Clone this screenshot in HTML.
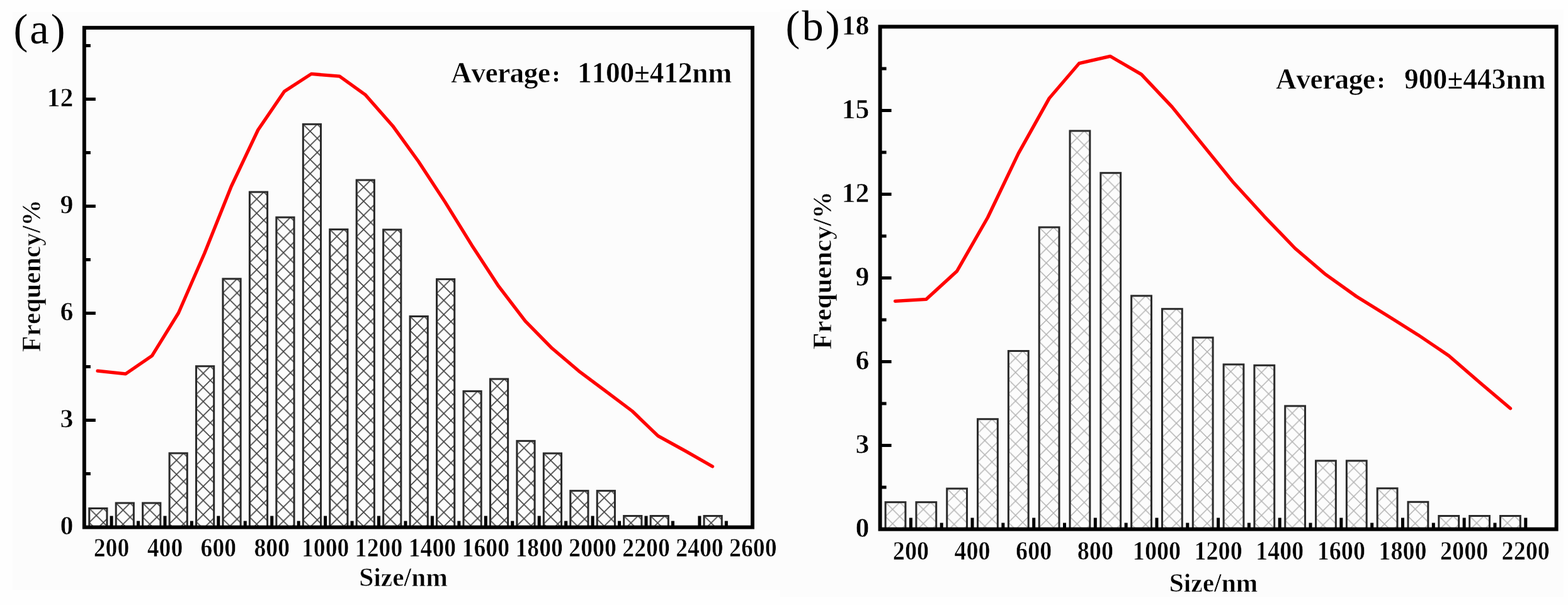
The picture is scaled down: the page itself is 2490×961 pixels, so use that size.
<!DOCTYPE html>
<html><head><meta charset="utf-8"><title>Size distribution</title>
<style>
html,body{margin:0;padding:0;background:#fefefe;}
svg{display:block;}
text{font-family:"Liberation Serif","Noto Serif CJK SC",serif;fill:#000;font-kerning:none;}
text.b{stroke:#fcfcfc;stroke-width:0.6px;}
</style></head><body>
<svg width="2490" height="961" viewBox="0 0 2490 961">
<defs>
<pattern id="a0" patternUnits="userSpaceOnUse" x="141.72" y="807.5" width="22.45" height="22.45"><path d="M-22.45,0L0,22.45M0,0L-22.45,22.45M0,0L22.45,22.45M22.45,0L0,22.45M22.45,0L44.9,22.45M44.9,0L22.45,22.45" stroke="#000" stroke-width="1.6" stroke-opacity="0.75" fill="none"/></pattern>
<pattern id="a1" patternUnits="userSpaceOnUse" x="184.17" y="799" width="22.45" height="22.45"><path d="M-22.45,0L0,22.45M0,0L-22.45,22.45M0,0L22.45,22.45M22.45,0L0,22.45M22.45,0L44.9,22.45M44.9,0L22.45,22.45" stroke="#000" stroke-width="1.6" stroke-opacity="0.75" fill="none"/></pattern>
<pattern id="a2" patternUnits="userSpaceOnUse" x="226.62" y="799" width="22.45" height="22.45"><path d="M-22.45,0L0,22.45M0,0L-22.45,22.45M0,0L22.45,22.45M22.45,0L0,22.45M22.45,0L44.9,22.45M44.9,0L22.45,22.45" stroke="#000" stroke-width="1.6" stroke-opacity="0.75" fill="none"/></pattern>
<pattern id="a3" patternUnits="userSpaceOnUse" x="269.07" y="719.9" width="22.45" height="22.45"><path d="M-22.45,0L0,22.45M0,0L-22.45,22.45M0,0L22.45,22.45M22.45,0L0,22.45M22.45,0L44.9,22.45M44.9,0L22.45,22.45" stroke="#000" stroke-width="1.6" stroke-opacity="0.75" fill="none"/></pattern>
<pattern id="a4" patternUnits="userSpaceOnUse" x="311.52" y="581.7" width="22.45" height="22.45"><path d="M-22.45,0L0,22.45M0,0L-22.45,22.45M0,0L22.45,22.45M22.45,0L0,22.45M22.45,0L44.9,22.45M44.9,0L22.45,22.45" stroke="#000" stroke-width="1.6" stroke-opacity="0.75" fill="none"/></pattern>
<pattern id="a5" patternUnits="userSpaceOnUse" x="353.96" y="442.9" width="22.45" height="22.45"><path d="M-22.45,0L0,22.45M0,0L-22.45,22.45M0,0L22.45,22.45M22.45,0L0,22.45M22.45,0L44.9,22.45M44.9,0L22.45,22.45" stroke="#000" stroke-width="1.6" stroke-opacity="0.75" fill="none"/></pattern>
<pattern id="a6" patternUnits="userSpaceOnUse" x="396.41" y="305" width="22.45" height="22.45"><path d="M-22.45,0L0,22.45M0,0L-22.45,22.45M0,0L22.45,22.45M22.45,0L0,22.45M22.45,0L44.9,22.45M44.9,0L22.45,22.45" stroke="#000" stroke-width="1.6" stroke-opacity="0.75" fill="none"/></pattern>
<pattern id="a7" patternUnits="userSpaceOnUse" x="438.86" y="345.2" width="22.45" height="22.45"><path d="M-22.45,0L0,22.45M0,0L-22.45,22.45M0,0L22.45,22.45M22.45,0L0,22.45M22.45,0L44.9,22.45M44.9,0L22.45,22.45" stroke="#000" stroke-width="1.6" stroke-opacity="0.75" fill="none"/></pattern>
<pattern id="a8" patternUnits="userSpaceOnUse" x="481.31" y="197.3" width="22.45" height="22.45"><path d="M-22.45,0L0,22.45M0,0L-22.45,22.45M0,0L22.45,22.45M22.45,0L0,22.45M22.45,0L44.9,22.45M44.9,0L22.45,22.45" stroke="#000" stroke-width="1.6" stroke-opacity="0.75" fill="none"/></pattern>
<pattern id="a9" patternUnits="userSpaceOnUse" x="523.76" y="364.4" width="22.45" height="22.45"><path d="M-22.45,0L0,22.45M0,0L-22.45,22.45M0,0L22.45,22.45M22.45,0L0,22.45M22.45,0L44.9,22.45M44.9,0L22.45,22.45" stroke="#000" stroke-width="1.6" stroke-opacity="0.75" fill="none"/></pattern>
<pattern id="a10" patternUnits="userSpaceOnUse" x="566.2" y="286" width="22.45" height="22.45"><path d="M-22.45,0L0,22.45M0,0L-22.45,22.45M0,0L22.45,22.45M22.45,0L0,22.45M22.45,0L44.9,22.45M44.9,0L22.45,22.45" stroke="#000" stroke-width="1.6" stroke-opacity="0.75" fill="none"/></pattern>
<pattern id="a11" patternUnits="userSpaceOnUse" x="608.65" y="364.8" width="22.45" height="22.45"><path d="M-22.45,0L0,22.45M0,0L-22.45,22.45M0,0L22.45,22.45M22.45,0L0,22.45M22.45,0L44.9,22.45M44.9,0L22.45,22.45" stroke="#000" stroke-width="1.6" stroke-opacity="0.75" fill="none"/></pattern>
<pattern id="a12" patternUnits="userSpaceOnUse" x="651.1" y="502.5" width="22.45" height="22.45"><path d="M-22.45,0L0,22.45M0,0L-22.45,22.45M0,0L22.45,22.45M22.45,0L0,22.45M22.45,0L44.9,22.45M44.9,0L22.45,22.45" stroke="#000" stroke-width="1.6" stroke-opacity="0.75" fill="none"/></pattern>
<pattern id="a13" patternUnits="userSpaceOnUse" x="693.55" y="443.5" width="22.45" height="22.45"><path d="M-22.45,0L0,22.45M0,0L-22.45,22.45M0,0L22.45,22.45M22.45,0L0,22.45M22.45,0L44.9,22.45M44.9,0L22.45,22.45" stroke="#000" stroke-width="1.6" stroke-opacity="0.75" fill="none"/></pattern>
<pattern id="a14" patternUnits="userSpaceOnUse" x="736" y="621.4" width="22.45" height="22.45"><path d="M-22.45,0L0,22.45M0,0L-22.45,22.45M0,0L22.45,22.45M22.45,0L0,22.45M22.45,0L44.9,22.45M44.9,0L22.45,22.45" stroke="#000" stroke-width="1.6" stroke-opacity="0.75" fill="none"/></pattern>
<pattern id="a15" patternUnits="userSpaceOnUse" x="778.44" y="602" width="22.45" height="22.45"><path d="M-22.45,0L0,22.45M0,0L-22.45,22.45M0,0L22.45,22.45M22.45,0L0,22.45M22.45,0L44.9,22.45M44.9,0L22.45,22.45" stroke="#000" stroke-width="1.6" stroke-opacity="0.75" fill="none"/></pattern>
<pattern id="a16" patternUnits="userSpaceOnUse" x="820.89" y="700.4" width="22.45" height="22.45"><path d="M-22.45,0L0,22.45M0,0L-22.45,22.45M0,0L22.45,22.45M22.45,0L0,22.45M22.45,0L44.9,22.45M44.9,0L22.45,22.45" stroke="#000" stroke-width="1.6" stroke-opacity="0.75" fill="none"/></pattern>
<pattern id="a17" patternUnits="userSpaceOnUse" x="863.34" y="720.1" width="22.45" height="22.45"><path d="M-22.45,0L0,22.45M0,0L-22.45,22.45M0,0L22.45,22.45M22.45,0L0,22.45M22.45,0L44.9,22.45M44.9,0L22.45,22.45" stroke="#000" stroke-width="1.6" stroke-opacity="0.75" fill="none"/></pattern>
<pattern id="a18" patternUnits="userSpaceOnUse" x="905.79" y="779.6" width="22.45" height="22.45"><path d="M-22.45,0L0,22.45M0,0L-22.45,22.45M0,0L22.45,22.45M22.45,0L0,22.45M22.45,0L44.9,22.45M44.9,0L22.45,22.45" stroke="#000" stroke-width="1.6" stroke-opacity="0.75" fill="none"/></pattern>
<pattern id="a19" patternUnits="userSpaceOnUse" x="948.24" y="779.6" width="22.45" height="22.45"><path d="M-22.45,0L0,22.45M0,0L-22.45,22.45M0,0L22.45,22.45M22.45,0L0,22.45M22.45,0L44.9,22.45M44.9,0L22.45,22.45" stroke="#000" stroke-width="1.6" stroke-opacity="0.75" fill="none"/></pattern>
<pattern id="a20" patternUnits="userSpaceOnUse" x="990.68" y="819.5" width="22.45" height="22.45"><path d="M-22.45,0L0,22.45M0,0L-22.45,22.45M0,0L22.45,22.45M22.45,0L0,22.45M22.45,0L44.9,22.45M44.9,0L22.45,22.45" stroke="#000" stroke-width="1.6" stroke-opacity="0.75" fill="none"/></pattern>
<pattern id="a21" patternUnits="userSpaceOnUse" x="1033.13" y="819.5" width="22.45" height="22.45"><path d="M-22.45,0L0,22.45M0,0L-22.45,22.45M0,0L22.45,22.45M22.45,0L0,22.45M22.45,0L44.9,22.45M44.9,0L22.45,22.45" stroke="#000" stroke-width="1.6" stroke-opacity="0.75" fill="none"/></pattern>
<pattern id="a22" patternUnits="userSpaceOnUse" x="1118.03" y="819.5" width="22.45" height="22.45"><path d="M-22.45,0L0,22.45M0,0L-22.45,22.45M0,0L22.45,22.45M22.45,0L0,22.45M22.45,0L44.9,22.45M44.9,0L22.45,22.45" stroke="#000" stroke-width="1.6" stroke-opacity="0.75" fill="none"/></pattern>
<pattern id="b0" patternUnits="userSpaceOnUse" x="1406.11" y="797.7" width="22.7" height="22.7"><path d="M-22.7,0L0,22.7M0,0L-22.7,22.7M0,0L22.7,22.7M22.7,0L0,22.7M22.7,0L45.4,22.7M45.4,0L22.7,22.7" stroke="#000" stroke-width="1.4" stroke-opacity="0.3" fill="none"/></pattern>
<pattern id="b1" patternUnits="userSpaceOnUse" x="1454.93" y="797.7" width="22.7" height="22.7"><path d="M-22.7,0L0,22.7M0,0L-22.7,22.7M0,0L22.7,22.7M22.7,0L0,22.7M22.7,0L45.4,22.7M45.4,0L22.7,22.7" stroke="#000" stroke-width="1.4" stroke-opacity="0.3" fill="none"/></pattern>
<pattern id="b2" patternUnits="userSpaceOnUse" x="1503.75" y="776.1" width="22.7" height="22.7"><path d="M-22.7,0L0,22.7M0,0L-22.7,22.7M0,0L22.7,22.7M22.7,0L0,22.7M22.7,0L45.4,22.7M45.4,0L22.7,22.7" stroke="#000" stroke-width="1.4" stroke-opacity="0.3" fill="none"/></pattern>
<pattern id="b3" patternUnits="userSpaceOnUse" x="1552.56" y="665.7" width="22.7" height="22.7"><path d="M-22.7,0L0,22.7M0,0L-22.7,22.7M0,0L22.7,22.7M22.7,0L0,22.7M22.7,0L45.4,22.7M45.4,0L22.7,22.7" stroke="#000" stroke-width="1.4" stroke-opacity="0.3" fill="none"/></pattern>
<pattern id="b4" patternUnits="userSpaceOnUse" x="1601.38" y="557.5" width="22.7" height="22.7"><path d="M-22.7,0L0,22.7M0,0L-22.7,22.7M0,0L22.7,22.7M22.7,0L0,22.7M22.7,0L45.4,22.7M45.4,0L22.7,22.7" stroke="#000" stroke-width="1.4" stroke-opacity="0.3" fill="none"/></pattern>
<pattern id="b5" patternUnits="userSpaceOnUse" x="1650.2" y="361" width="22.7" height="22.7"><path d="M-22.7,0L0,22.7M0,0L-22.7,22.7M0,0L22.7,22.7M22.7,0L0,22.7M22.7,0L45.4,22.7M45.4,0L22.7,22.7" stroke="#000" stroke-width="1.4" stroke-opacity="0.3" fill="none"/></pattern>
<pattern id="b6" patternUnits="userSpaceOnUse" x="1699.02" y="207.9" width="22.7" height="22.7"><path d="M-22.7,0L0,22.7M0,0L-22.7,22.7M0,0L22.7,22.7M22.7,0L0,22.7M22.7,0L45.4,22.7M45.4,0L22.7,22.7" stroke="#000" stroke-width="1.4" stroke-opacity="0.3" fill="none"/></pattern>
<pattern id="b7" patternUnits="userSpaceOnUse" x="1747.84" y="274.7" width="22.7" height="22.7"><path d="M-22.7,0L0,22.7M0,0L-22.7,22.7M0,0L22.7,22.7M22.7,0L0,22.7M22.7,0L45.4,22.7M45.4,0L22.7,22.7" stroke="#000" stroke-width="1.4" stroke-opacity="0.3" fill="none"/></pattern>
<pattern id="b8" patternUnits="userSpaceOnUse" x="1796.65" y="469.9" width="22.7" height="22.7"><path d="M-22.7,0L0,22.7M0,0L-22.7,22.7M0,0L22.7,22.7M22.7,0L0,22.7M22.7,0L45.4,22.7M45.4,0L22.7,22.7" stroke="#000" stroke-width="1.4" stroke-opacity="0.3" fill="none"/></pattern>
<pattern id="b9" patternUnits="userSpaceOnUse" x="1845.47" y="490.7" width="22.7" height="22.7"><path d="M-22.7,0L0,22.7M0,0L-22.7,22.7M0,0L22.7,22.7M22.7,0L0,22.7M22.7,0L45.4,22.7M45.4,0L22.7,22.7" stroke="#000" stroke-width="1.4" stroke-opacity="0.3" fill="none"/></pattern>
<pattern id="b10" patternUnits="userSpaceOnUse" x="1894.29" y="536.2" width="22.7" height="22.7"><path d="M-22.7,0L0,22.7M0,0L-22.7,22.7M0,0L22.7,22.7M22.7,0L0,22.7M22.7,0L45.4,22.7M45.4,0L22.7,22.7" stroke="#000" stroke-width="1.4" stroke-opacity="0.3" fill="none"/></pattern>
<pattern id="b11" patternUnits="userSpaceOnUse" x="1943.11" y="578.9" width="22.7" height="22.7"><path d="M-22.7,0L0,22.7M0,0L-22.7,22.7M0,0L22.7,22.7M22.7,0L0,22.7M22.7,0L45.4,22.7M45.4,0L22.7,22.7" stroke="#000" stroke-width="1.4" stroke-opacity="0.3" fill="none"/></pattern>
<pattern id="b12" patternUnits="userSpaceOnUse" x="1991.93" y="580.3" width="22.7" height="22.7"><path d="M-22.7,0L0,22.7M0,0L-22.7,22.7M0,0L22.7,22.7M22.7,0L0,22.7M22.7,0L45.4,22.7M45.4,0L22.7,22.7" stroke="#000" stroke-width="1.4" stroke-opacity="0.3" fill="none"/></pattern>
<pattern id="b13" patternUnits="userSpaceOnUse" x="2040.75" y="644.9" width="22.7" height="22.7"><path d="M-22.7,0L0,22.7M0,0L-22.7,22.7M0,0L22.7,22.7M22.7,0L0,22.7M22.7,0L45.4,22.7M45.4,0L22.7,22.7" stroke="#000" stroke-width="1.4" stroke-opacity="0.3" fill="none"/></pattern>
<pattern id="b14" patternUnits="userSpaceOnUse" x="2089.56" y="731.9" width="22.7" height="22.7"><path d="M-22.7,0L0,22.7M0,0L-22.7,22.7M0,0L22.7,22.7M22.7,0L0,22.7M22.7,0L45.4,22.7M45.4,0L22.7,22.7" stroke="#000" stroke-width="1.4" stroke-opacity="0.3" fill="none"/></pattern>
<pattern id="b15" patternUnits="userSpaceOnUse" x="2138.38" y="731.9" width="22.7" height="22.7"><path d="M-22.7,0L0,22.7M0,0L-22.7,22.7M0,0L22.7,22.7M22.7,0L0,22.7M22.7,0L45.4,22.7M45.4,0L22.7,22.7" stroke="#000" stroke-width="1.4" stroke-opacity="0.3" fill="none"/></pattern>
<pattern id="b16" patternUnits="userSpaceOnUse" x="2187.2" y="775.7" width="22.7" height="22.7"><path d="M-22.7,0L0,22.7M0,0L-22.7,22.7M0,0L22.7,22.7M22.7,0L0,22.7M22.7,0L45.4,22.7M45.4,0L22.7,22.7" stroke="#000" stroke-width="1.4" stroke-opacity="0.3" fill="none"/></pattern>
<pattern id="b17" patternUnits="userSpaceOnUse" x="2236.02" y="797.3" width="22.7" height="22.7"><path d="M-22.7,0L0,22.7M0,0L-22.7,22.7M0,0L22.7,22.7M22.7,0L0,22.7M22.7,0L45.4,22.7M45.4,0L22.7,22.7" stroke="#000" stroke-width="1.4" stroke-opacity="0.3" fill="none"/></pattern>
<pattern id="b18" patternUnits="userSpaceOnUse" x="2284.84" y="819.5" width="22.7" height="22.7"><path d="M-22.7,0L0,22.7M0,0L-22.7,22.7M0,0L22.7,22.7M22.7,0L0,22.7M22.7,0L45.4,22.7M45.4,0L22.7,22.7" stroke="#000" stroke-width="1.4" stroke-opacity="0.3" fill="none"/></pattern>
<pattern id="b19" patternUnits="userSpaceOnUse" x="2333.65" y="819.5" width="22.7" height="22.7"><path d="M-22.7,0L0,22.7M0,0L-22.7,22.7M0,0L22.7,22.7M22.7,0L0,22.7M22.7,0L45.4,22.7M45.4,0L22.7,22.7" stroke="#000" stroke-width="1.4" stroke-opacity="0.3" fill="none"/></pattern>
<pattern id="b20" patternUnits="userSpaceOnUse" x="2382.47" y="819.5" width="22.7" height="22.7"><path d="M-22.7,0L0,22.7M0,0L-22.7,22.7M0,0L22.7,22.7M22.7,0L0,22.7M22.7,0L45.4,22.7M45.4,0L22.7,22.7" stroke="#000" stroke-width="1.4" stroke-opacity="0.3" fill="none"/></pattern>
</defs>
<rect width="2490" height="961" fill="#fefefe"/>
<rect x="20" y="19" width="1219" height="918" fill="#fcfcfc"/>
<rect x="1239" y="15" width="1244" height="933" fill="#fcfcfc"/>
<rect x="141.72" y="807.5" width="28.2" height="30" fill="url(#a0)" stroke="#2a2a2a" stroke-width="3"/>
<rect x="184.17" y="799" width="28.2" height="38.5" fill="url(#a1)" stroke="#2a2a2a" stroke-width="3"/>
<rect x="226.62" y="799" width="28.2" height="38.5" fill="url(#a2)" stroke="#2a2a2a" stroke-width="3"/>
<rect x="269.07" y="719.9" width="28.2" height="117.6" fill="url(#a3)" stroke="#2a2a2a" stroke-width="3"/>
<rect x="311.52" y="581.7" width="28.2" height="255.8" fill="url(#a4)" stroke="#2a2a2a" stroke-width="3"/>
<rect x="353.96" y="442.9" width="28.2" height="394.6" fill="url(#a5)" stroke="#2a2a2a" stroke-width="3"/>
<rect x="396.41" y="305" width="28.2" height="532.5" fill="url(#a6)" stroke="#2a2a2a" stroke-width="3"/>
<rect x="438.86" y="345.2" width="28.2" height="492.3" fill="url(#a7)" stroke="#2a2a2a" stroke-width="3"/>
<rect x="481.31" y="197.3" width="28.2" height="640.2" fill="url(#a8)" stroke="#2a2a2a" stroke-width="3"/>
<rect x="523.76" y="364.4" width="28.2" height="473.1" fill="url(#a9)" stroke="#2a2a2a" stroke-width="3"/>
<rect x="566.2" y="286" width="28.2" height="551.5" fill="url(#a10)" stroke="#2a2a2a" stroke-width="3"/>
<rect x="608.65" y="364.8" width="28.2" height="472.7" fill="url(#a11)" stroke="#2a2a2a" stroke-width="3"/>
<rect x="651.1" y="502.5" width="28.2" height="335" fill="url(#a12)" stroke="#2a2a2a" stroke-width="3"/>
<rect x="693.55" y="443.5" width="28.2" height="394" fill="url(#a13)" stroke="#2a2a2a" stroke-width="3"/>
<rect x="736" y="621.4" width="28.2" height="216.1" fill="url(#a14)" stroke="#2a2a2a" stroke-width="3"/>
<rect x="778.44" y="602" width="28.2" height="235.5" fill="url(#a15)" stroke="#2a2a2a" stroke-width="3"/>
<rect x="820.89" y="700.4" width="28.2" height="137.1" fill="url(#a16)" stroke="#2a2a2a" stroke-width="3"/>
<rect x="863.34" y="720.1" width="28.2" height="117.4" fill="url(#a17)" stroke="#2a2a2a" stroke-width="3"/>
<rect x="905.79" y="779.6" width="28.2" height="57.9" fill="url(#a18)" stroke="#2a2a2a" stroke-width="3"/>
<rect x="948.24" y="779.6" width="28.2" height="57.9" fill="url(#a19)" stroke="#2a2a2a" stroke-width="3"/>
<rect x="990.68" y="819.5" width="28.2" height="18" fill="url(#a20)" stroke="#2a2a2a" stroke-width="3"/>
<rect x="1033.13" y="819.5" width="28.2" height="18" fill="url(#a21)" stroke="#2a2a2a" stroke-width="3"/>
<rect x="1118.03" y="819.5" width="28.2" height="18" fill="url(#a22)" stroke="#2a2a2a" stroke-width="3"/>
<polyline points="155,589.2 199.5,593.9 241.4,565.1 283.5,497 324.8,402.2 367.3,296 409.7,206.5 451.5,145.2 494.4,117.4 539.2,121.2 579.9,150.3 623.6,199.9 664.4,256.2 706.9,321.1 749.3,389.7 791.8,454.7 834.2,510.1 876.7,553.3 919.1,589.3 961.6,621.1 1004,653 1044.9,692.4 1088.9,716.6 1131.5,741" fill="none" stroke="#ff0000" stroke-width="5.3" stroke-linejoin="round" stroke-linecap="round"/>
<rect x="133.8" y="44.1" width="1061.2" height="793.4" fill="none" stroke="#000" stroke-width="5.9"/>
<path d="M133.8,667.49H151.8M133.8,497.47H151.8M133.8,327.46H151.8M133.8,157.44H151.8M133.8,752.49H143.8M133.8,582.48H143.8M133.8,412.46H143.8M133.8,242.45H143.8M133.8,72.44H143.8M177.05,837.5V819.5M261.94,837.5V819.5M346.84,837.5V819.5M431.74,837.5V819.5M516.63,837.5V819.5M601.53,837.5V819.5M686.42,837.5V819.5M771.32,837.5V819.5M856.22,837.5V819.5M941.11,837.5V819.5M1026.01,837.5V819.5M1110.9,837.5V819.5M219.5,837.5V827.5M304.39,837.5V827.5M389.29,837.5V827.5M474.18,837.5V827.5M559.08,837.5V827.5M643.98,837.5V827.5M728.87,837.5V827.5M813.77,837.5V827.5M898.66,837.5V827.5M983.56,837.5V827.5M1068.46,837.5V827.5M1153.35,837.5V827.5" stroke="#000" stroke-width="5" fill="none"/>
<rect x="1406.11" y="797.7" width="31.8" height="42.9" fill="url(#b0)" stroke="#2a2a2a" stroke-width="3"/>
<rect x="1454.93" y="797.7" width="31.8" height="42.9" fill="url(#b1)" stroke="#2a2a2a" stroke-width="3"/>
<rect x="1503.75" y="776.1" width="31.8" height="64.5" fill="url(#b2)" stroke="#2a2a2a" stroke-width="3"/>
<rect x="1552.56" y="665.7" width="31.8" height="174.9" fill="url(#b3)" stroke="#2a2a2a" stroke-width="3"/>
<rect x="1601.38" y="557.5" width="31.8" height="283.1" fill="url(#b4)" stroke="#2a2a2a" stroke-width="3"/>
<rect x="1650.2" y="361" width="31.8" height="479.6" fill="url(#b5)" stroke="#2a2a2a" stroke-width="3"/>
<rect x="1699.02" y="207.9" width="31.8" height="632.7" fill="url(#b6)" stroke="#2a2a2a" stroke-width="3"/>
<rect x="1747.84" y="274.7" width="31.8" height="565.9" fill="url(#b7)" stroke="#2a2a2a" stroke-width="3"/>
<rect x="1796.65" y="469.9" width="31.8" height="370.7" fill="url(#b8)" stroke="#2a2a2a" stroke-width="3"/>
<rect x="1845.47" y="490.7" width="31.8" height="349.9" fill="url(#b9)" stroke="#2a2a2a" stroke-width="3"/>
<rect x="1894.29" y="536.2" width="31.8" height="304.4" fill="url(#b10)" stroke="#2a2a2a" stroke-width="3"/>
<rect x="1943.11" y="578.9" width="31.8" height="261.7" fill="url(#b11)" stroke="#2a2a2a" stroke-width="3"/>
<rect x="1991.93" y="580.3" width="31.8" height="260.3" fill="url(#b12)" stroke="#2a2a2a" stroke-width="3"/>
<rect x="2040.75" y="644.9" width="31.8" height="195.7" fill="url(#b13)" stroke="#2a2a2a" stroke-width="3"/>
<rect x="2089.56" y="731.9" width="31.8" height="108.7" fill="url(#b14)" stroke="#2a2a2a" stroke-width="3"/>
<rect x="2138.38" y="731.9" width="31.8" height="108.7" fill="url(#b15)" stroke="#2a2a2a" stroke-width="3"/>
<rect x="2187.2" y="775.7" width="31.8" height="64.9" fill="url(#b16)" stroke="#2a2a2a" stroke-width="3"/>
<rect x="2236.02" y="797.3" width="31.8" height="43.3" fill="url(#b17)" stroke="#2a2a2a" stroke-width="3"/>
<rect x="2284.84" y="819.5" width="31.8" height="21.1" fill="url(#b18)" stroke="#2a2a2a" stroke-width="3"/>
<rect x="2333.65" y="819.5" width="31.8" height="21.1" fill="url(#b19)" stroke="#2a2a2a" stroke-width="3"/>
<rect x="2382.47" y="819.5" width="31.8" height="21.1" fill="url(#b20)" stroke="#2a2a2a" stroke-width="3"/>
<polyline points="1421.5,478.3 1471,475.3 1519.6,430.8 1568.5,345.5 1617.3,243.6 1666.2,156.1 1713.7,100.6 1763,89.3 1812.5,118.1 1861.3,169.9 1910.1,230.2 1959,290.3 2007.8,343.8 2056.6,394.5 2105.4,436.2 2154.2,471 2203,501.2 2251.8,531.9 2300.7,565 2349.5,607.3 2398.5,648.8" fill="none" stroke="#ff0000" stroke-width="5.3" stroke-linejoin="round" stroke-linecap="round"/>
<rect x="1397.6" y="42.4" width="1074" height="798.2" fill="none" stroke="#000" stroke-width="6"/>
<path d="M1397.6,707.57H1415.6M1397.6,574.53H1415.6M1397.6,441.5H1415.6M1397.6,308.47H1415.6M1397.6,175.43H1415.6M1397.6,774.08H1407.6M1397.6,641.05H1407.6M1397.6,508.02H1407.6M1397.6,374.98H1407.6M1397.6,241.95H1407.6M1397.6,108.92H1407.6M1446.42,840.6V822.6M1544.05,840.6V822.6M1641.69,840.6V822.6M1739.33,840.6V822.6M1836.96,840.6V822.6M1934.6,840.6V822.6M2032.24,840.6V822.6M2129.87,840.6V822.6M2227.51,840.6V822.6M2325.15,840.6V822.6M2422.78,840.6V822.6M1495.24,840.6V830.6M1592.87,840.6V830.6M1690.51,840.6V830.6M1788.15,840.6V830.6M1885.78,840.6V830.6M1983.42,840.6V830.6M2081.05,840.6V830.6M2178.69,840.6V830.6M2276.33,840.6V830.6M2373.96,840.6V830.6" stroke="#000" stroke-width="5" fill="none"/>
<text class="b" x="116.5" y="848.9" font-size="42" font-weight="bold" text-anchor="end">0</text>
<text class="b" x="116.5" y="678.89" font-size="42" font-weight="bold" text-anchor="end">3</text>
<text class="b" x="116.5" y="508.87" font-size="42" font-weight="bold" text-anchor="end">6</text>
<text class="b" x="116.5" y="338.86" font-size="42" font-weight="bold" text-anchor="end">9</text>
<text class="b" x="116.5" y="168.84" font-size="42" font-weight="bold" text-anchor="end">12</text>
<text class="b" x="0" y="0" font-size="41.5" font-weight="bold" text-anchor="middle" transform="translate(177.05,884.3) scale(0.91,1)">200</text>
<text class="b" x="0" y="0" font-size="41.5" font-weight="bold" text-anchor="middle" transform="translate(261.94,884.3) scale(0.91,1)">400</text>
<text class="b" x="0" y="0" font-size="41.5" font-weight="bold" text-anchor="middle" transform="translate(346.84,884.3) scale(0.91,1)">600</text>
<text class="b" x="0" y="0" font-size="41.5" font-weight="bold" text-anchor="middle" transform="translate(431.74,884.3) scale(0.91,1)">800</text>
<text class="b" x="0" y="0" font-size="41.5" font-weight="bold" text-anchor="middle" transform="translate(516.63,884.3) scale(0.91,1)">1000</text>
<text class="b" x="0" y="0" font-size="41.5" font-weight="bold" text-anchor="middle" transform="translate(601.53,884.3) scale(0.91,1)">1200</text>
<text class="b" x="0" y="0" font-size="41.5" font-weight="bold" text-anchor="middle" transform="translate(686.42,884.3) scale(0.91,1)">1400</text>
<text class="b" x="0" y="0" font-size="41.5" font-weight="bold" text-anchor="middle" transform="translate(771.32,884.3) scale(0.91,1)">1600</text>
<text class="b" x="0" y="0" font-size="41.5" font-weight="bold" text-anchor="middle" transform="translate(856.22,884.3) scale(0.91,1)">1800</text>
<text class="b" x="0" y="0" font-size="41.5" font-weight="bold" text-anchor="middle" transform="translate(941.11,884.3) scale(0.91,1)">2000</text>
<text class="b" x="0" y="0" font-size="41.5" font-weight="bold" text-anchor="middle" transform="translate(1026.01,884.3) scale(0.91,1)">2200</text>
<text class="b" x="0" y="0" font-size="41.5" font-weight="bold" text-anchor="middle" transform="translate(1110.9,884.3) scale(0.91,1)">2400</text>
<text class="b" x="0" y="0" font-size="41.5" font-weight="bold" text-anchor="middle" transform="translate(1195.8,884.3) scale(0.91,1)">2600</text>
<text class="b" x="1380.5" y="852.9" font-size="44" font-weight="bold" text-anchor="end">0</text>
<text class="b" x="1380.5" y="719.87" font-size="44" font-weight="bold" text-anchor="end">3</text>
<text class="b" x="1380.5" y="586.83" font-size="44" font-weight="bold" text-anchor="end">6</text>
<text class="b" x="1380.5" y="453.8" font-size="44" font-weight="bold" text-anchor="end">9</text>
<text class="b" x="1380.5" y="320.77" font-size="44" font-weight="bold" text-anchor="end">12</text>
<text class="b" x="1380.5" y="187.73" font-size="44" font-weight="bold" text-anchor="end">15</text>
<text class="b" x="1380.5" y="54.7" font-size="44" font-weight="bold" text-anchor="end">18</text>
<text class="b" x="0" y="0" font-size="41.5" font-weight="bold" text-anchor="middle" transform="translate(1446.42,888.9) scale(0.92,1)">200</text>
<text class="b" x="0" y="0" font-size="41.5" font-weight="bold" text-anchor="middle" transform="translate(1544.05,888.9) scale(0.92,1)">400</text>
<text class="b" x="0" y="0" font-size="41.5" font-weight="bold" text-anchor="middle" transform="translate(1641.69,888.9) scale(0.92,1)">600</text>
<text class="b" x="0" y="0" font-size="41.5" font-weight="bold" text-anchor="middle" transform="translate(1739.33,888.9) scale(0.92,1)">800</text>
<text class="b" x="0" y="0" font-size="41.5" font-weight="bold" text-anchor="middle" transform="translate(1836.96,888.9) scale(0.92,1)">1000</text>
<text class="b" x="0" y="0" font-size="41.5" font-weight="bold" text-anchor="middle" transform="translate(1934.6,888.9) scale(0.92,1)">1200</text>
<text class="b" x="0" y="0" font-size="41.5" font-weight="bold" text-anchor="middle" transform="translate(2032.24,888.9) scale(0.92,1)">1400</text>
<text class="b" x="0" y="0" font-size="41.5" font-weight="bold" text-anchor="middle" transform="translate(2129.87,888.9) scale(0.92,1)">1600</text>
<text class="b" x="0" y="0" font-size="41.5" font-weight="bold" text-anchor="middle" transform="translate(2227.51,888.9) scale(0.92,1)">1800</text>
<text class="b" x="0" y="0" font-size="41.5" font-weight="bold" text-anchor="middle" transform="translate(2325.15,888.9) scale(0.92,1)">2000</text>
<text class="b" x="0" y="0" font-size="41.5" font-weight="bold" text-anchor="middle" transform="translate(2422.78,888.9) scale(0.92,1)">2200</text>
<text class="b" x="640.5" y="931" font-size="41.5" font-weight="bold" text-anchor="middle">Size/nm</text>
<text class="b" x="1927" y="940" font-size="41.5" font-weight="bold" text-anchor="middle">Size/nm</text>
<text class="b" x="0" y="0" font-size="41.5" font-weight="bold" text-anchor="middle" transform="translate(63.7,438) rotate(-90)">Frequency/%</text>
<text class="b" x="0" y="0" font-size="43" font-weight="bold" text-anchor="middle" transform="translate(1320,429.5) rotate(-90)">Frequency/%</text>
<text class="b" x="716" y="130.5" font-size="45.5" font-weight="bold"><tspan letter-spacing="-0.6">Average</tspan><tspan font-family="Liberation Serif, Noto Serif CJK SC, serif" font-size="27" stroke="#000" stroke-width="1.3" dx="2.2" dy="-0.8">：</tspan><tspan x="917" dy="0.8" letter-spacing="-0.25">1100±412nm</tspan></text>
<text class="b" x="2026" y="140.6" font-size="45.5" font-weight="bold"><tspan letter-spacing="-0.6">Average</tspan><tspan font-family="Liberation Serif, Noto Serif CJK SC, serif" font-size="27" stroke="#000" stroke-width="1.3" dx="2.2" dy="-0.8">：</tspan><tspan x="2230" dy="0.8">900±443nm</tspan></text>
<text x="21.5" y="68.5" font-size="68.5" font-weight="normal" text-anchor="start" letter-spacing="3">(a)</text>
<text x="1247.5" y="64" font-size="68.5" font-weight="normal" text-anchor="start" letter-spacing="3.2">(b)</text>
</svg>
</body></html>
